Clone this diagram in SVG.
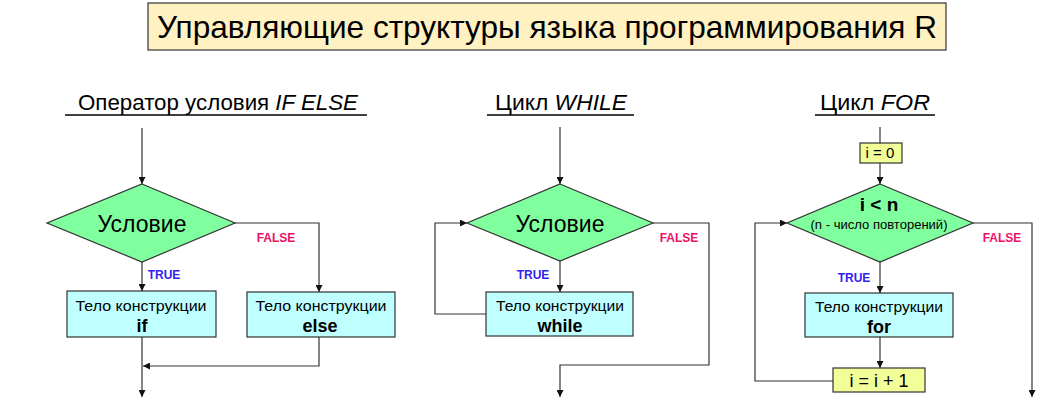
<svg xmlns="http://www.w3.org/2000/svg" width="1037" height="402" viewBox="0 0 1037 402">
<defs>
<marker id="arr" viewBox="0 0 10 10" refX="10" refY="5" markerWidth="7" markerHeight="7" markerUnits="userSpaceOnUse" orient="auto">
<path d="M0,0 L10,5 L0,10 z" fill="#111"/>
</marker>
<style>
.t{font-family:"Liberation Sans",Arial,sans-serif;fill:#000}
.dia{fill:#80ff9e;stroke:#333;stroke-width:1.2}
.box{fill:#bfffff;stroke:#333;stroke-width:1.2}
.ybox{fill:#f2ff99;stroke:#333;stroke-width:1.2}
.ln{fill:none;stroke:#333;stroke-width:1.2}
.ul{stroke:#000;stroke-width:1.5}
.tr{font-family:"Liberation Sans",Arial,sans-serif;font-weight:bold;font-size:12px;fill:#3322ee}
.fa{font-family:"Liberation Sans",Arial,sans-serif;font-weight:bold;font-size:12px;fill:#ee1166}
.body{font-size:15px}
.kw{font-size:18px;font-weight:bold}
</style>
</defs>
<rect width="1037" height="402" fill="#fff"/>

<g id="title">
<rect x="148" y="3" width="798" height="47" fill="#fff1c2" stroke="#333" stroke-width="1.2"/>
<text class="t" x="547" y="38" font-size="32" text-anchor="middle" textLength="780" lengthAdjust="spacingAndGlyphs">Управляющие структуры языка программирования R</text>
</g>

<g id="heading-if">
<text class="t" x="218" y="110" font-size="22" text-anchor="middle" textLength="280" lengthAdjust="spacingAndGlyphs">Оператор условия <tspan font-style="italic">IF ELSE</tspan></text>
<line class="ul" x1="65" y1="115" x2="367" y2="115"/>
</g>
<g id="heading-while">
<text class="t" x="561" y="110" font-size="22" text-anchor="middle" textLength="132" lengthAdjust="spacingAndGlyphs">Цикл <tspan font-style="italic">WHILE</tspan></text>
<line class="ul" x1="487" y1="115" x2="634" y2="115"/>
</g>
<g id="heading-for">
<text class="t" x="875" y="110" font-size="22" text-anchor="middle" textLength="110" lengthAdjust="spacingAndGlyphs">Цикл <tspan font-style="italic">FOR</tspan></text>
<line class="ul" x1="815" y1="115" x2="935" y2="115"/>
</g>

<g id="connectors">
<path class="ln" d="M142,128 V184" marker-end="url(#arr)"/>
<path class="ln" d="M142,262 V291" marker-end="url(#arr)"/>
<path class="ln" d="M235,223 H319 V292" marker-end="url(#arr)"/>
<path class="ln" d="M142,337 V397" marker-end="url(#arr)"/>
<path class="ln" d="M319,337 V366 H143" marker-end="url(#arr)"/>
<path class="ln" d="M560,127 V184" marker-end="url(#arr)"/>
<path class="ln" d="M560,261 V292" marker-end="url(#arr)"/>
<path class="ln" d="M486,314 H435 V223 H467" marker-end="url(#arr)"/>
<path class="ln" d="M653,223 H709 V365 H560 V397" marker-end="url(#arr)"/>
<path class="ln" d="M880,127 V143"/>
<path class="ln" d="M880,163 V184" marker-end="url(#arr)"/>
<path class="ln" d="M880,262 V293" marker-end="url(#arr)"/>
<path class="ln" d="M880,337 V368" marker-end="url(#arr)"/>
<path class="ln" d="M833,381 H755 V223 H787" marker-end="url(#arr)"/>
<path class="ln" d="M973,223 H1032 V397" marker-end="url(#arr)"/>
</g>

<g id="labels">
<text class="tr" x="164" y="279" text-anchor="middle">TRUE</text>
<text class="fa" x="276" y="242" text-anchor="middle">FALSE</text>
<text class="tr" x="533" y="279" text-anchor="middle">TRUE</text>
<text class="fa" x="679" y="242" text-anchor="middle">FALSE</text>
<text class="tr" x="854" y="282" text-anchor="middle">TRUE</text>
<text class="fa" x="1002" y="242" text-anchor="middle">FALSE</text>
</g>

<g id="if-cond">
<polygon class="dia" points="142,184 235,223 142,262 47,223"/>
<text class="t" x="142" y="232" font-size="23" text-anchor="middle">Условие</text>
</g>
<g id="if-body">
<rect class="box" x="67" y="291" width="149" height="46"/>
<text class="t body" x="141" y="311" text-anchor="middle" textLength="131" lengthAdjust="spacingAndGlyphs">Тело конструкции</text>
<text class="t kw" x="142" y="332" text-anchor="middle">if</text>
</g>
<g id="else-body">
<rect class="box" x="247" y="292" width="148" height="45"/>
<text class="t body" x="321" y="311" text-anchor="middle" textLength="131" lengthAdjust="spacingAndGlyphs">Тело конструкции</text>
<text class="t kw" x="320" y="332" text-anchor="middle">else</text>
</g>

<g id="while-cond">
<polygon class="dia" points="560,184 653,223 560,261 467,223"/>
<text class="t" x="560" y="232" font-size="23" text-anchor="middle">Условие</text>
</g>
<g id="while-body">
<rect class="box" x="486" y="292" width="147" height="44"/>
<text class="t body" x="560" y="311" text-anchor="middle" textLength="128" lengthAdjust="spacingAndGlyphs">Тело конструкции</text>
<text class="t kw" x="560" y="332" text-anchor="middle">while</text>
</g>

<g id="for-init">
<rect class="ybox" x="860" y="143" width="42" height="20"/>
<text class="t" x="880" y="158" font-size="15" text-anchor="middle">i = 0</text>
</g>
<g id="for-cond">
<polygon class="dia" points="880,184 973,223 880,262 787,223"/>
<text class="t" x="879" y="211" font-size="19" font-weight="bold" text-anchor="middle">i &lt; n</text>
<text class="t" x="879" y="229" font-size="12" text-anchor="middle" textLength="137" lengthAdjust="spacingAndGlyphs">(n - число повторений)</text>
</g>
<g id="for-body">
<rect class="box" x="805" y="293" width="148" height="44"/>
<text class="t body" x="879" y="312" text-anchor="middle" textLength="128" lengthAdjust="spacingAndGlyphs">Тело конструкции</text>
<text class="t kw" x="879" y="333" text-anchor="middle">for</text>
</g>
<g id="for-inc">
<rect class="ybox" x="833" y="368" width="92" height="24"/>
<text class="t" x="879" y="387" font-size="18" text-anchor="middle">i = i + 1</text>
</g>
</svg>
